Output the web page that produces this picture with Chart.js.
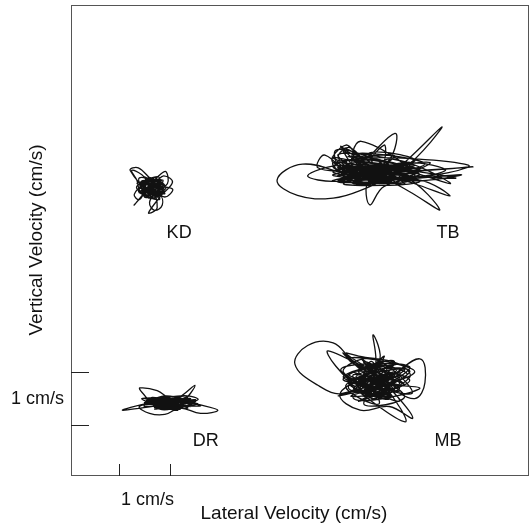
<!DOCTYPE html>
<html>
<head>
<meta charset="utf-8">
<script src="https://cdn.jsdelivr.net/npm/chart.js@4"></script>
<style>
  html, body { margin: 0; padding: 0; background: #fff; }
  #wrap { width: 532px; height: 523px; }
</style>
</head>
<body>
<div id="wrap"><canvas id="velChart"></canvas></div>
<script>
// Trayectorias de velocidad (cm/s)
const kdX = [0.63, 0.80, 0.70, 0.50, 0.65, 0.78, 0.55, 0.48, 0.72, 0.82, 0.60, 0.45, 0.58, 0.76, 0.85, 0.66, 0.42, 0.35, 0.25, 0.45, 0.62, 0.78, 0.92, 0.95, 0.75, 0.60, 0.70, 0.85, 0.80, 0.55, 0.40, 0.30, 0.50, 0.70, 1.05, 0.90, 0.65,
    0.63, 0.85, 0.45, 0.75, 0.50, 0.88, 0.40, 0.70, 0.55, 0.82, 0.42, 0.66, 0.90, 0.48, 0.60, 0.80, 0.38, 0.72, 0.58, 0.86, 0.44, 0.68, 0.52, 0.84, 0.46, 0.78, 0.56, 0.88, 0.40, 0.62, 0.74, 0.50,
    0.36, 0.90, 0.50, 0.80, 0.38, 0.86, 0.60, 0.40, 0.92, 0.55, 0.35, 0.78, 0.64, 0.22, 0.38, 0.70, 0.88, 1.05, 0.82, 0.58, 0.75, 0.62, 0.30, 0.44, 0.70, 0.86, 0.50, 0.66,
    0.48, 0.80, 0.55, 0.76, 0.46, 0.70, 0.82, 0.52, 0.64, 0.78, 0.50, 0.63];
const kdY = [4.47, 4.55, 4.35, 4.50, 4.62, 4.40, 4.38, 4.58, 4.60, 4.48, 4.30, 4.45, 4.66, 4.58, 4.40, 4.28, 4.40, 4.62, 4.80, 4.72, 4.55, 4.70, 4.78, 4.55, 4.42, 4.20, 4.05, 4.15, 4.35, 4.42, 4.25, 4.35, 4.52, 4.50, 4.45, 4.30, 4.45,
    4.47, 4.58, 4.36, 4.64, 4.30, 4.42, 4.55, 4.28, 4.66, 4.34, 4.48, 4.62, 4.50, 4.32, 4.60, 4.38, 4.44, 4.66, 4.28, 4.52, 4.60, 4.34, 4.42, 4.62, 4.52, 4.30, 4.56, 4.46, 4.38, 4.50, 4.40, 4.58,
    4.55, 4.36, 4.68, 4.26, 4.42, 4.62, 4.30, 4.66, 4.48, 4.34, 4.50, 4.68, 4.40, 4.80, 4.85, 4.60, 4.70, 4.58, 4.32, 4.00, 4.10, 4.45, 4.15, 4.30, 4.58, 4.50, 4.40, 4.47,
    4.40, 4.56, 4.60, 4.36, 4.52, 4.62, 4.44, 4.34, 4.58, 4.50, 4.48, 4.47];

const tbX = [5.02, 5.60, 4.50, 5.30, 4.60, 5.80, 4.30, 5.10, 5.50, 4.40, 5.90, 4.80, 4.20, 5.40, 6.94, 5.70, 4.60, 3.60, 3.10, 3.50, 4.20, 4.80, 5.30, 6.33, 5.60, 4.90, 4.92, 5.20, 5.90, 6.49, 5.80, 5.00, 4.53, 4.30, 4.60, 5.41, 5.30, 4.70, 4.04, 3.90, 4.50, 5.60, 6.29, 5.70, 5.10, 4.40, 3.70, 4.30, 5.20, 6.10, 5.50, 4.90, 5.25, 4.70,
    4.30, 5.60, 4.50, 5.80, 4.20, 5.40, 4.70, 5.90, 4.40, 5.20, 4.25, 4.60, 5.70, 4.30, 5.00, 5.50, 4.80, 4.20, 5.80, 4.75, 4.60, 5.30, 4.40, 5.60, 4.90, 4.30, 5.70, 4.70, 5.20, 5.10, 4.50, 5.90, 4.80, 4.20, 5.40, 4.60, 5.80, 4.40, 5.20, 6.40, 5.60, 4.70, 5.00, 4.30, 5.50, 4.90, 6.60, 5.40, 4.50, 5.10, 4.80,
    4.20, 5.90, 4.40, 6.00, 4.60, 5.60, 4.20, 4.45, 4.70, 5.30, 4.90, 5.80, 4.30, 6.70, 5.50, 4.60, 5.10, 4.30, 5.70, 4.80, 4.50, 6.85, 5.60, 4.40, 5.00, 4.20, 5.40, 4.70, 5.90, 4.50, 5.20, 4.80, 4.35, 4.55, 5.60, 4.90, 5.30, 6.50, 5.10, 4.60, 5.02];
const tbY = [4.77, 4.90, 4.70, 4.62, 4.88, 4.75, 4.80, 5.00, 4.60, 4.65, 4.85, 4.55, 4.95, 4.80, 4.87, 4.78, 4.72, 4.92, 4.62, 4.33, 4.28, 4.45, 4.70, 5.62, 4.85, 4.60, 4.15, 4.50, 4.62, 4.32, 4.55, 4.80, 5.23, 5.05, 4.85, 5.50, 5.00, 4.62, 5.09, 4.85, 4.78, 4.68, 4.06, 4.40, 4.70, 4.90, 4.70, 4.60, 4.85, 4.95, 4.72, 4.82, 4.68, 4.75,
    4.85, 4.70, 4.62, 4.90, 4.78, 4.58, 4.95, 4.72, 4.68, 4.88, 5.18, 4.55, 4.80, 4.98, 4.66, 4.92, 4.74, 4.60, 4.65, 5.35, 4.86, 4.75, 4.90, 4.60, 4.82, 4.70, 4.95, 4.62, 5.28, 4.78, 4.92, 4.80, 4.66, 4.72, 4.88, 4.58, 4.74, 4.84, 4.64, 4.80, 4.95, 4.70, 4.86, 4.60, 4.76, 4.90, 4.66, 4.72, 4.82, 4.68, 4.78,
    5.05, 4.60, 4.55, 4.92, 5.10, 4.55, 4.95, 5.28, 5.05, 4.58, 5.12, 4.98, 4.58, 4.72, 4.62, 5.02, 4.55, 5.10, 4.90, 4.58, 5.00, 4.90, 4.70, 5.22, 4.64, 4.88, 5.08, 4.56, 4.80, 5.06, 4.96, 4.70, 5.25, 5.12, 4.85, 4.60, 5.02, 4.55, 4.90, 4.70, 4.77];

const drX = [1.04, 1.40, 0.70, 1.20, 0.60, 1.50, 0.90, 0.50, 1.30, 0.08, 0.60, 1.10, 1.49, 1.20, 0.80, 0.45, 0.41, 0.75, 1.00, 1.60, 1.94, 1.60, 1.20, 0.90, 0.60, 0.40, 0.90, 1.30, 1.55, 1.10, 0.70, 1.00, 1.25, 0.85,
    0.60, 1.40, 0.50, 1.30, 0.80, 1.50, 0.45, 1.20, 0.70, 1.55, 0.55, 1.10, 0.90, 1.45, 0.50, 1.25, 0.75, 1.50, 0.60, 1.35, 0.85, 1.20, 0.65, 1.40,
    0.50, 1.50, 0.70, 1.35, 0.55, 1.60, 0.85, 1.15, 0.45, 1.45, 0.95, 0.65, 1.30, 0.80, 1.04];
const drY = [0.42, 0.50, 0.38, 0.30, 0.50, 0.40, 0.55, 0.35, 0.45, 0.28, 0.42, 0.48, 0.75, 0.40, 0.30, 0.62, 0.70, 0.65, 0.50, 0.38, 0.28, 0.22, 0.32, 0.20, 0.22, 0.35, 0.45, 0.55, 0.48, 0.38, 0.45, 0.33, 0.44, 0.40,
    0.45, 0.35, 0.50, 0.42, 0.30, 0.48, 0.38, 0.52, 0.33, 0.40, 0.47, 0.30, 0.50, 0.36, 0.42, 0.46, 0.34, 0.44, 0.40, 0.32, 0.48, 0.38, 0.44, 0.50,
    0.38, 0.48, 0.30, 0.55, 0.45, 0.36, 0.52, 0.28, 0.50, 0.44, 0.30, 0.52, 0.36, 0.46, 0.42];

const mbX = [5.02, 5.50, 4.60, 5.30, 4.70, 5.60, 4.50, 5.10, 4.98, 5.00, 4.40, 3.90, 3.45, 3.70, 4.20, 4.60, 5.20, 5.90, 6.00, 5.80, 5.30, 4.80, 4.33, 4.73, 5.30, 5.76, 5.40, 4.90, 4.45, 4.70, 5.50, 5.70, 5.00, 4.50, 5.61, 5.20, 4.90, 5.40, 4.85, 5.15,
    4.60, 5.50, 4.80, 5.60, 4.50, 5.30, 4.40, 4.70, 5.70, 4.90, 5.20, 4.40, 5.50, 4.10, 4.70, 5.40, 5.00, 4.60, 5.60, 4.80, 5.30, 4.50, 5.10, 5.70, 4.70, 5.40, 4.90, 5.20, 4.60, 5.50,
    4.30, 5.80, 4.50, 5.60, 4.80, 5.40, 4.40, 5.90, 4.60, 5.20, 4.90, 5.70, 4.35, 5.50, 4.75, 5.30, 4.55, 5.65, 4.85, 5.10, 4.45, 5.45, 4.65, 5.75, 5.00, 4.40, 5.35, 4.80, 5.55, 4.70, 5.25, 4.95,
    4.75, 5.45, 4.85, 5.35, 4.65, 5.50, 4.95, 5.25, 4.70, 5.40, 5.05, 4.80, 5.30, 4.90, 5.50, 4.75, 5.20, 5.02];
const mbY = [0.81, 1.00, 0.70, 0.55, 1.10, 0.75, 0.95, 1.20, 1.70, 1.00, 0.60, 0.75, 1.15, 1.50, 1.55, 1.20, 0.90, 1.25, 0.80, 0.50, 0.70, 0.85, 0.57, 0.28, 0.35, 0.13, 0.60, 1.05, 1.35, 1.30, 1.15, 0.90, 0.60, 0.80, 0.06, 0.75, 0.90, 0.85, 0.70, 0.95,
    1.00, 0.70, 0.55, 1.05, 0.80, 0.50, 1.35, 1.15, 0.85, 0.60, 1.10, 0.90, 0.65, 1.40, 0.75, 1.00, 0.50, 0.95, 0.75, 1.20, 0.60, 0.70, 1.05, 1.00, 0.45, 0.80, 1.10, 0.60, 0.85, 0.95,
    0.55, 1.00, 1.25, 0.55, 0.40, 1.20, 0.85, 0.70, 0.50, 1.30, 0.65, 1.10, 1.05, 0.45, 1.25, 0.70, 0.55, 0.95, 1.10, 0.40, 0.75, 1.15, 0.90, 0.60, 1.25, 1.00, 0.55, 0.65, 1.05, 0.85, 0.50, 1.20,
    0.60, 1.05, 0.95, 0.55, 0.85, 0.80, 0.50, 1.10, 1.00, 0.65, 0.90, 0.70, 1.00, 0.55, 0.90, 0.80, 0.65, 0.81];

// Etiquetas de sujetos
const subjectNames = ['KD', 'TB', 'DR', 'MB'];
const subjectLabelX = [1.18, 6.45, 1.70, 6.45];
const subjectLabelY = [3.62, 3.62, -0.30, -0.30];

// Marcas de escala (1 cm/s)
const xTicks = [0, 1];
const yTicks = [0, 1];
const scaleLabel = '1 cm/s';

function toPoints(xs, ys) {
    return xs.map((x, i) => ({ x: x, y: ys[i] }));
}

document.addEventListener('DOMContentLoaded', function() {
    const FONT = '"Liberation Sans", Arial, sans-serif';
    const INK = '#111';

    // Marco, marcas y textos
    const framePlugin = {
        id: 'frame',
        afterDraw(chart) {
            const ctx = chart.ctx;
            const area = chart.chartArea;
            const xs = chart.scales.x;
            const ys = chart.scales.y;
            ctx.save();
            ctx.strokeStyle = '#555';
            ctx.lineWidth = 1;
            ctx.strokeRect(area.left + 0.5, area.top + 0.5, area.right - area.left - 1, area.bottom - area.top - 1);

            ctx.strokeStyle = '#222';
            xTicks.forEach(v => {
                const px = Math.round(xs.getPixelForValue(v)) + 0.5;
                ctx.beginPath();
                ctx.moveTo(px, area.bottom);
                ctx.lineTo(px, area.bottom - 12);
                ctx.stroke();
            });
            yTicks.forEach(v => {
                const py = Math.round(ys.getPixelForValue(v)) + 0.5;
                ctx.beginPath();
                ctx.moveTo(area.left, py);
                ctx.lineTo(area.left + 18, py);
                ctx.stroke();
            });

            ctx.fillStyle = INK;
            ctx.font = '18px ' + FONT;
            ctx.textBaseline = 'middle';

            // etiqueta de escala en x
            ctx.textAlign = 'center';
            const midX = (xs.getPixelForValue(xTicks[0]) + xs.getPixelForValue(xTicks[1])) / 2;
            ctx.fillText(scaleLabel, midX + 3, area.bottom + 24);

            // etiqueta de escala en y
            ctx.textAlign = 'right';
            const midY = (ys.getPixelForValue(yTicks[0]) + ys.getPixelForValue(yTicks[1])) / 2;
            ctx.fillText(scaleLabel, area.left - 7, midY);

            // nombres de sujetos
            ctx.textAlign = 'center';
            subjectNames.forEach((name, i) => {
                ctx.fillText(name, xs.getPixelForValue(subjectLabelX[i]), ys.getPixelForValue(subjectLabelY[i]));
            });

            // titulos de ejes
            ctx.font = '19px ' + FONT;
            ctx.fillText('Lateral Velocity (cm/s)', 294, area.bottom + 38);
            ctx.translate(37, 240);
            ctx.rotate(-Math.PI / 2);
            ctx.fillText('Vertical Velocity (cm/s)', 0, 0);
            ctx.restore();
        }
    };

    const lineStyle = {
        showLine: true,
        pointRadius: 0,
        borderColor: INK,
        borderWidth: 1.3,
        tension: 0.4
    };

    const ctx = document.getElementById('velChart').getContext('2d');
    window.velChart = new Chart(ctx, {
        type: 'scatter',
        data: {
            datasets: [
                Object.assign({ label: 'KD', data: toPoints(kdX, kdY) }, lineStyle),
                Object.assign({ label: 'TB', data: toPoints(tbX, tbY) }, lineStyle),
                Object.assign({ label: 'DR', data: toPoints(drX, drY) }, lineStyle),
                Object.assign({ label: 'MB', data: toPoints(mbX, mbY) }, lineStyle)
            ]
        },
        options: {
            responsive: true,
            maintainAspectRatio: false,
            animation: false,
            layout: {
                padding: { left: 71, top: 5, right: 3, bottom: 47 }
            },
            plugins: {
                legend: { display: false },
                tooltip: { enabled: false }
            },
            scales: {
                x: { type: 'linear', min: -0.94, max: 8.04, display: false },
                y: { type: 'linear', min: -0.96, max: 7.92, display: false }
            }
        },
        plugins: [framePlugin]
    });
});
</script>
</body>
</html>
